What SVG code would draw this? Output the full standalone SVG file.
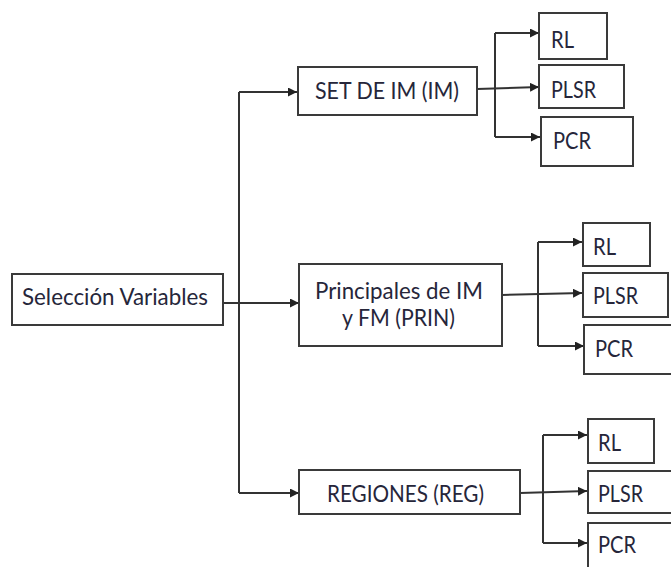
<svg xmlns="http://www.w3.org/2000/svg" width="671" height="567" viewBox="0 0 671 567">
<style>
.box{fill:#fff;stroke:#3a3a3a;stroke-width:2}
.t{font-family:"Lato","Liberation Sans",sans-serif;font-size:24px;fill:#26263a}
.c{fill:none;stroke:#333;stroke-width:2}
.a{fill:none;stroke:#333;stroke-width:2;marker-end:url(#ah)}
</style>
<defs>
<marker id="ah" viewBox="0 0 10 10" refX="10" refY="5" markerWidth="4.5" markerHeight="4.5" orient="auto" markerUnits="strokeWidth">
<path d="M0,0 L10,5 L0,10 z" fill="#222"/>
</marker>
</defs>
<rect width="671" height="567" fill="#fff"/>
<g id="connectors">
<path class="a" d="M223,303 H299"/>
<path class="c" d="M239,92 V493"/>
<path class="a" d="M239,92 H297"/>
<path class="a" d="M239,493 H299"/>
<path class="a" d="M477,89 L539,87"/>
<path class="c" d="M495,33 V137"/>
<path class="a" d="M495,33 H539"/>
<path class="a" d="M495,137 H540"/>
<path class="a" d="M502,295 L582,293"/>
<path class="c" d="M538,242 V346"/>
<path class="a" d="M538,242 H582"/>
<path class="a" d="M538,346 H584"/>
<path class="a" d="M520,493 L587,491"/>
<path class="c" d="M543,435 V543"/>
<path class="a" d="M543,435 H587"/>
<path class="a" d="M543,543 H587"/>
</g>
<g id="seleccion">
<rect class="box" x="12" y="274" width="211" height="51"/>
<text class="t" x="22" y="305" textLength="186" lengthAdjust="spacingAndGlyphs">Selección Variables</text>
</g>
<g id="set">
<rect class="box" x="298" y="67" width="179" height="48"/>
<text class="t" x="315" y="99" textLength="144" lengthAdjust="spacingAndGlyphs">SET DE IM (IM)</text>
</g>
<g id="prin">
<rect class="box" x="299" y="264" width="203" height="82"/>
<text class="t" x="315" y="299" textLength="168" lengthAdjust="spacingAndGlyphs">Principales de IM</text>
<text class="t" x="342" y="326" textLength="113" lengthAdjust="spacingAndGlyphs">y FM (PRIN)</text>
</g>
<g id="reg">
<rect class="box" x="299" y="470" width="221" height="44"/>
<text class="t" x="327" y="502" textLength="157" lengthAdjust="spacingAndGlyphs">REGIONES (REG)</text>
</g>
<g id="rl1">
<rect class="box" x="539" y="13" width="68" height="46"/>
<text class="t" x="551" y="48" textLength="23" lengthAdjust="spacingAndGlyphs">RL</text>
</g>
<g id="plsr1">
<rect class="box" x="539" y="65" width="85" height="43"/>
<text class="t" x="551" y="98" textLength="45" lengthAdjust="spacingAndGlyphs">PLSR</text>
</g>
<g id="pcr1">
<rect class="box" x="541" y="117" width="92" height="49"/>
<text class="t" x="553" y="149" textLength="38" lengthAdjust="spacingAndGlyphs">PCR</text>
</g>
<g id="rl2">
<rect class="box" x="583" y="223" width="67" height="43"/>
<text class="t" x="593" y="255" textLength="23" lengthAdjust="spacingAndGlyphs">RL</text>
</g>
<g id="plsr2">
<rect class="box" x="583" y="273" width="85" height="44"/>
<text class="t" x="593" y="304" textLength="45" lengthAdjust="spacingAndGlyphs">PLSR</text>
</g>
<g id="pcr2">
<rect class="box" x="584" y="325" width="92" height="49"/>
<text class="t" x="595" y="357" textLength="38" lengthAdjust="spacingAndGlyphs">PCR</text>
</g>
<g id="rl3">
<rect class="box" x="588" y="419" width="66" height="44"/>
<text class="t" x="598" y="451" textLength="23" lengthAdjust="spacingAndGlyphs">RL</text>
</g>
<g id="plsr3">
<rect class="box" x="588" y="471" width="85" height="42"/>
<text class="t" x="598" y="502" textLength="45" lengthAdjust="spacingAndGlyphs">PLSR</text>
</g>
<g id="pcr3">
<rect class="box" x="588" y="523" width="92" height="60"/>
<text class="t" x="598" y="553" textLength="38" lengthAdjust="spacingAndGlyphs">PCR</text>
</g>
</svg>
